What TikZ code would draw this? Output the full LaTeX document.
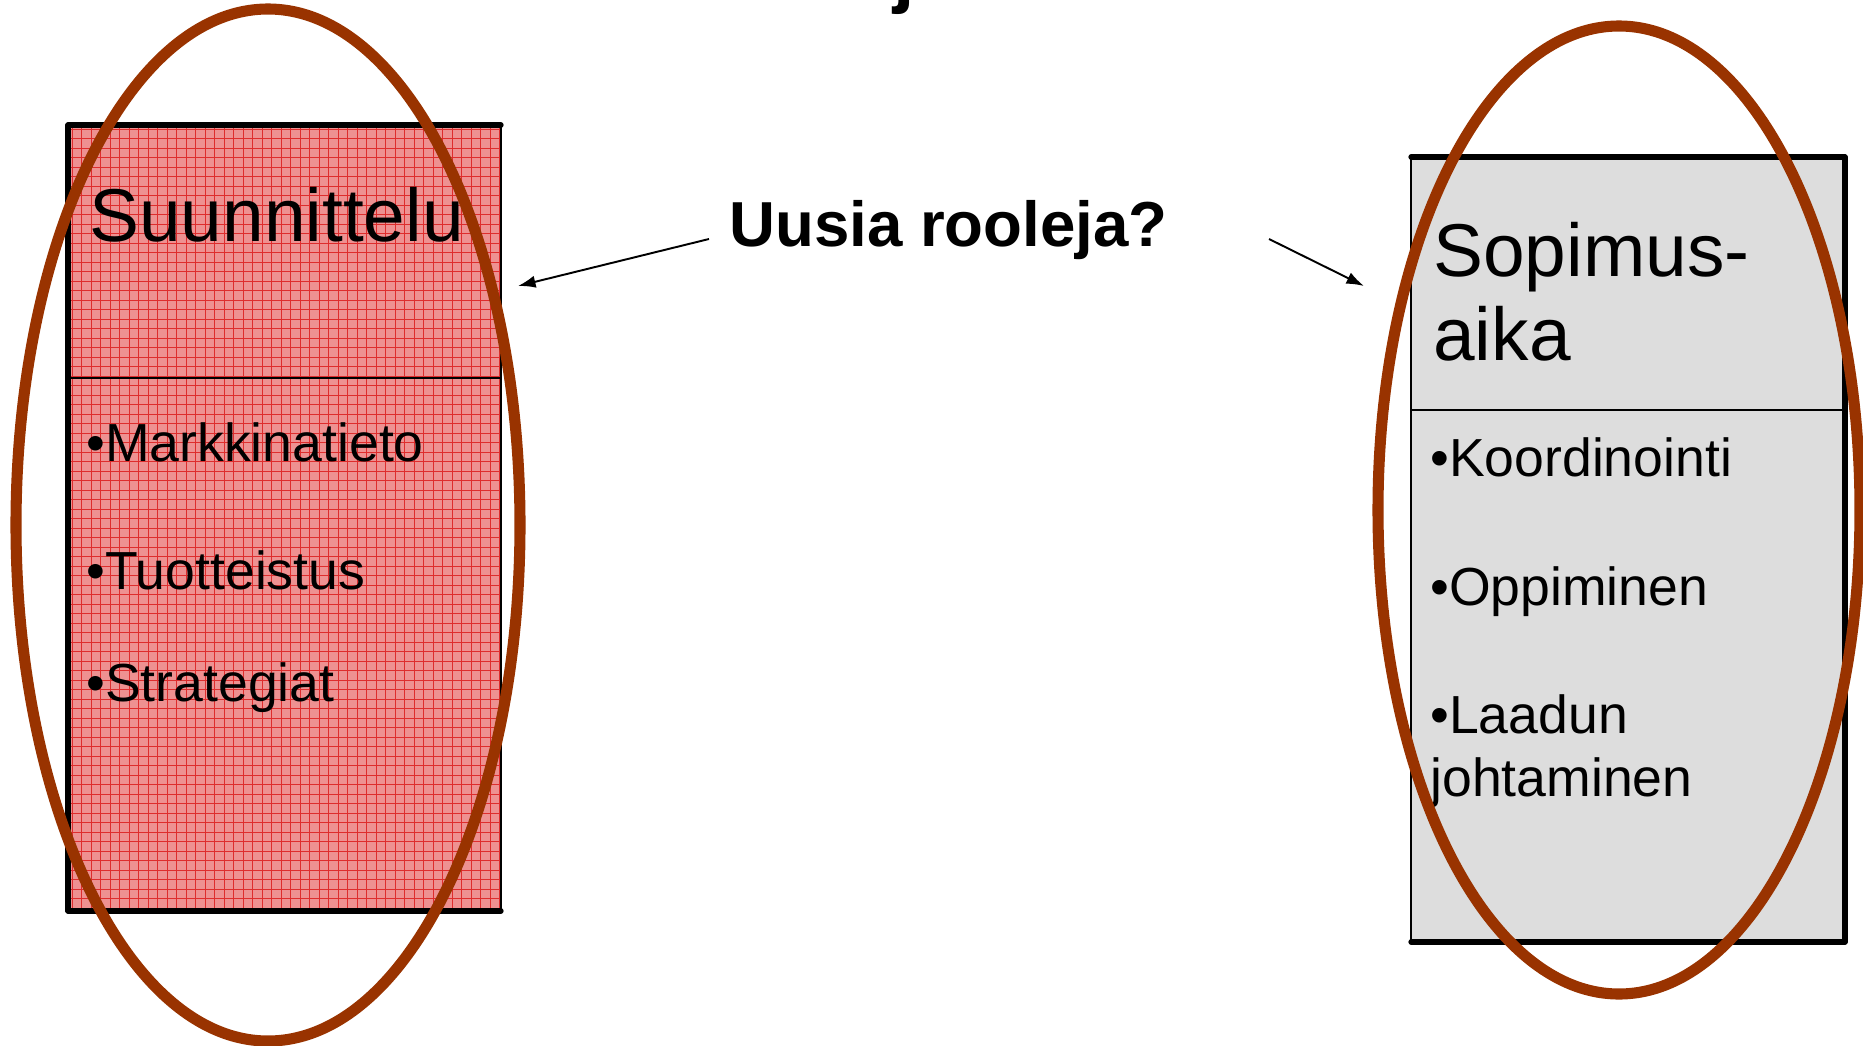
\documentclass[tikz,border=0pt]{standalone}
\usepackage{fontspec}
\setmainfont{Liberation Sans}
\usetikzlibrary{arrows.meta}
\definecolor{ovalbrown}{RGB}{153,51,0}
\definecolor{planpink}{RGB}{238,145,145}
\definecolor{planred}{RGB}{222,45,45}
\definecolor{boxgray}{RGB}{221,221,221}
\begin{document}
\begin{tikzpicture}[x=0.02cm, y=-0.02cm,
    head/.style = {anchor=base west, inner sep=0pt, align=left, font=\fontsize{42.6}{47.6}\selectfont},
    item/.style = {anchor=base west, inner sep=0pt, align=left, font=\fontsize{30.5}{35.7}\selectfont},
    side/.style = {line width=3pt, line cap=round},
    gridline/.style = {planred, line width=0.55pt},
    conn/.style = {line width=1.1pt, -{Latex[length=10pt,width=7pt]}},
    oval/.style = {draw=ovalbrown, line width=6.3pt}]
  \useasboundingbox (0,0) rectangle (1863,1045);

  % cut-off title
  \node[anchor=base west, inner sep=0pt, font=\fontsize{44}{50}\selectfont\bfseries](title) at (893,-2){j};

  % left box: Suunnittelu
  \begin{scope}
    \clip (68,125) rectangle (501,911);
    \fill[planpink] (68,125) rectangle (501,911);
    \foreach \i in {0,...,45} \draw[gridline] (72+\i*9.5,125) -- (72+\i*9.5,911);
    \foreach \j in {0,...,82} \draw[gridline] (68,129+\j*9.5) -- (501,129+\j*9.5);
  \end{scope}
  \draw[line width=1.2pt] (68,378) -- (501,378);
  \draw[side] (68,125) -- (501,125); \draw[side] (68,125) -- (68,911);
  \draw[side] (68,911) -- (501,911); \draw[line width=1.6pt] (501,125) -- (501,911);

  % right box: Sopimusaika
  \fill[boxgray] (1411,157) rectangle (1845,942);
  \draw[line width=1.2pt] (1411,410) -- (1845,410);
  \draw[side] (1411,157) -- (1845,157); \draw[line width=1.4pt] (1411,157) -- (1411,942);
  \draw[side] (1411,942) -- (1845,942); \draw[side] (1845,157) -- (1845,942);

  \node[head](suun) at (89,241){Suunnittelu};
  \node[item](mark) at (86,461){•Markkinatieto};
  \node[item](tuot) at (86,589){•Tuotteistus};
  \node[item](stra) at (86,701){•Strategiat};

  \node[head](sopi) at (1433,360){Sopimus-\\aika};
  \node[item](koor) at (1430,476){•Koordinointi};
  \node[item](oppi) at (1430,605){•Oppiminen};
  \node[item](laad) at (1430,796){•Laadun\\johtaminen};

  \node[anchor=base west, inner sep=0pt, font=\fontsize{36.2}{40}\selectfont\bfseries](uusi) at (729,246){Uusia rooleja?};

  \coordinate (qleft) at (709,239); \coordinate (qright) at (1269,239);
  \coordinate (toleft) at (518,286); \coordinate (toright) at (1364,286);
  \draw[conn] (qleft) -- (toleft); \draw[conn] (qright) -- (toright);

  \draw[oval] (268,525) ellipse [x radius=252, y radius=516];
  \draw[oval] (1619,510) ellipse [x radius=241, y radius=484];
\end{tikzpicture}
\end{document}
